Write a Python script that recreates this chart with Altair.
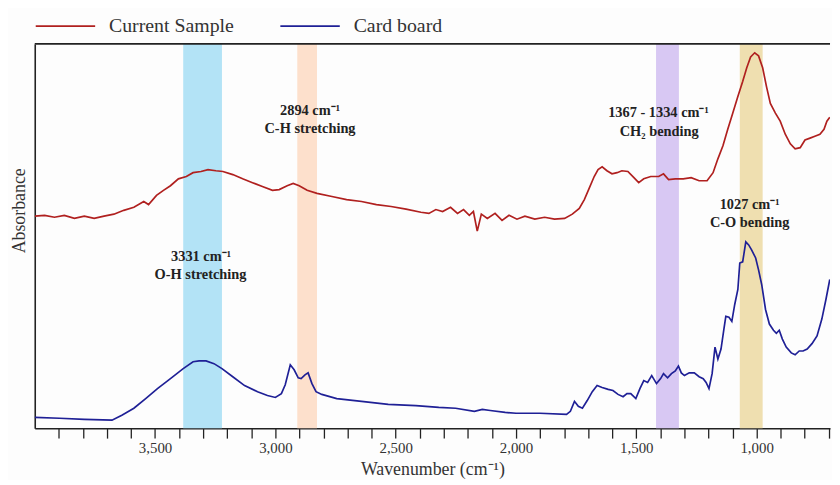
import altair as alt
import pandas as pd

# ---- data ----
red_w = [4000, 3959, 3918, 3877, 3835, 3794, 3753, 3712, 3671, 3630, 3588, 3547, 3527, 3494, 3465,
         3436, 3403, 3370, 3342, 3309, 3280, 3247, 3218, 3177, 3136, 3095, 3054, 3012, 2984, 2951,
         2926, 2901, 2868, 2827, 2765, 2704, 2642, 2580, 2519, 2457, 2395, 2362, 2333, 2305, 2272,
         2243, 2218, 2194, 2177, 2161, 2144, 2119, 2087, 2058, 2029, 1996, 1963, 1922, 1881, 1840,
         1798, 1766, 1737, 1716, 1696, 1675, 1659, 1642, 1622, 1601, 1580, 1560, 1535, 1510, 1490,
         1469, 1440, 1407, 1387, 1366, 1338, 1305, 1272, 1239, 1206, 1181, 1161, 1140, 1120, 1099,
         1078, 1058, 1041, 1025, 1008, 992, 975, 959, 943, 922, 902, 881, 860, 840, 819,
         799, 778, 758, 737, 720, 708, 696]
red_a = [55.2, 55.4, 54.9, 55.4, 54.6, 55.2, 54.6, 55.2, 55.7, 56.7, 57.5, 59.0, 58.2, 60.6, 61.9,
         63.1, 64.9, 65.5, 66.5, 66.8, 67.3, 67.0, 66.8, 66.0, 64.9, 63.9, 62.9, 61.9, 62.1, 63.1,
         63.7, 63.1, 61.9, 61.1, 60.3, 59.5, 59.0, 58.2, 57.7, 57.0, 56.2, 55.9, 56.9, 56.4, 57.5,
         55.9, 56.9, 55.4, 56.4, 51.3, 55.7, 54.6, 55.9, 54.1, 55.4, 54.4, 55.2, 54.4, 54.9, 54.4,
         54.6, 55.7, 57.2, 59.5, 62.4, 65.5, 67.3, 68.0, 67.0, 66.2, 66.5, 67.0, 66.8, 65.2, 63.9,
         64.9, 65.5, 65.5, 66.2, 64.7, 64.9, 64.9, 65.2, 64.4, 64.4, 66.5, 70.1, 73.5, 77.8, 82.0,
         86.3, 90.2, 93.8, 96.6, 97.7, 96.9, 93.8, 88.9, 84.5, 82.0, 79.9, 76.5, 74.0, 72.7, 73.0,
         75.0, 75.5, 76.0, 76.5, 77.8, 79.9, 80.9]

blue_w = [4000, 3897, 3794, 3679, 3638, 3588, 3539, 3490, 3436, 3383, 3342, 3317, 3288, 3255, 3222,
          3177, 3128, 3074, 3033, 3000, 2975, 2959, 2938, 2922, 2905, 2893, 2877, 2864, 2848, 2831,
          2807, 2745, 2642, 2531, 2416, 2321, 2251, 2173, 2140, 2107, 2045, 2000, 1901, 1790, 1774,
          1757, 1741, 1724, 1704, 1683, 1663, 1642, 1617, 1597, 1576, 1555, 1539, 1523, 1502, 1485,
          1469, 1453, 1436, 1416, 1399, 1387, 1370, 1354, 1338, 1325, 1313, 1300, 1280, 1259, 1239,
          1222, 1210, 1198, 1185, 1173, 1161, 1148, 1136, 1128, 1115, 1103, 1091, 1078, 1070, 1058,
          1045, 1033, 1021, 1004, 992, 979, 963, 947, 930, 918, 906, 893, 877, 856, 840,
          823, 807, 790, 770, 749, 729, 712, 696]
blue_a = [2.8, 2.6, 2.3, 2.1, 3.4, 5.2, 7.7, 10.3, 12.9, 15.5, 17.3, 17.5, 17.5, 16.8, 15.5,
          13.4, 11.1, 9.5, 8.5, 8.0, 9.0, 11.3, 16.5, 15.2, 13.1, 12.9, 13.9, 14.4, 11.6, 9.5,
          8.8, 7.7, 7.0, 6.2, 5.9, 5.4, 5.2, 4.4, 4.9, 4.6, 4.1, 3.9, 3.9, 3.6, 4.4,
          7.0, 5.7, 5.2, 7.2, 9.5, 11.1, 10.6, 10.1, 9.8, 8.8, 8.2, 9.0, 9.0, 7.7, 10.3,
          12.4, 11.9, 13.7, 11.6, 12.9, 14.2, 13.1, 14.2, 14.9, 16.2, 14.4, 13.7, 14.4, 14.4, 13.4,
          12.9, 11.9, 10.3, 14.2, 21.1, 18.0, 20.6, 25.8, 29.1, 28.9, 27.8, 32.2, 36.1, 43.0, 43.3,
          48.5, 47.7, 46.4, 44.3, 41.2, 37.4, 30.9, 27.1, 25.5, 24.7, 25.5, 23.2, 21.1, 19.6, 19.1,
          20.1, 20.1, 20.6, 22.0, 24.0, 28.4, 33.5, 38.7]

series_names = ["Current Sample", "Card board"]
series_colors = ["#b0201f", "#1f2096"]

band_start = [3383, 2909, 1418, 1070]
band_end = [3222, 2827, 1323, 975]
band_colors = ["#b3e3f6", "#fde0cc", "#d8c8f3", "#efdfb0"]

note_text = ["2894 cm⁻¹", "C-H stretching", "3331 cm⁻¹", "O-H stretching",
             "1367 - 1334  cm⁻¹", "CH₂ bending", "1027   cm⁻¹", "C-O bending"]
note_w = [2856, 2856, 3309, 3311, 1408, 1405, 1029, 1029]
note_a = [82.5, 77.8, 44.6, 39.9, 82.0, 77.1, 58.0, 53.4]

tick_values = list(range(3900, 600, -100))

# ---- tables ----
lines_df = pd.DataFrame({
    "w": red_w + blue_w,
    "a": red_a + blue_a,
    "series": [series_names[0]] * len(red_w) + [series_names[1]] * len(blue_w),
})
bands_df = pd.DataFrame({"start": band_start, "end": band_end, "color": band_colors})
notes_df = pd.DataFrame({"text": note_text, "w": note_w, "a": note_a})
frame_df = pd.DataFrame({"a": [100]})

SERIF = "Liberation Serif"
xscale = alt.Scale(domain=[4000, 695], nice=False, zero=False)
yscale = alt.Scale(domain=[0, 100], nice=False, zero=False)

xaxis = alt.Axis(values=tick_values,
                 labelExpr="(datum.value % 500 == 0) ? format(datum.value, ',') : ' '",
                 labelOverlap=False, labelSeparation=0,
                 tickSize=10, tickColor="#222", tickWidth=1.3,
                 domainColor="#222", domainWidth=1.6,
                 labelFont=SERIF, labelFontSize=15, labelColor="#333",
                 labelPadding=3, labelFlush=False,
                 title="Wavenumber (cm⁻¹)", titleFont=SERIF, titleFontSize=18,
                 titleFontWeight="normal", titleColor="#333", titlePadding=5,
                 grid=False)
yaxis = alt.Axis(ticks=False, labels=False, grid=False,
                 domainColor="#222", domainWidth=1.6,
                 title="Absorbance", titleFont=SERIF, titleFontSize=18,
                 titleFontWeight="normal", titleColor="#333",
                 titlePadding=6, titleY=168)

bands = alt.Chart(bands_df).mark_rect().encode(
    x=alt.X("start:Q", scale=xscale, axis=xaxis),
    x2="end:Q",
    fill=alt.Fill("color:N", scale=None, legend=None),
)

lines = alt.Chart(lines_df).mark_line(strokeWidth=1.7, clip=True).encode(
    x=alt.X("w:Q", scale=xscale, axis=xaxis),
    y=alt.Y("a:Q", scale=yscale, axis=yaxis),
    color=alt.Color("series:N",
                    scale=alt.Scale(domain=series_names, range=series_colors),
                    sort=series_names,
                    legend=alt.Legend(title=None, orient="none", legendX=0, legendY=-49,
                                      direction="horizontal", symbolType="stroke",
                                      symbolSize=3600, symbolStrokeWidth=2,
                                      labelFont=SERIF, labelFontSize=20, labelColor="#333",
                                      labelOffset=13, columnPadding=42, padding=0)),
)

notes = alt.Chart(notes_df).mark_text(font=SERIF, fontSize=14.5, fontWeight="bold",
                                      color="#222", baseline="middle", align="center").encode(
    x=alt.X("w:Q", scale=xscale, axis=xaxis),
    y=alt.Y("a:Q", scale=yscale, axis=yaxis),
    text="text:N",
)

top_frame = alt.Chart(frame_df).mark_rule(color="#222", strokeWidth=1.8).encode(
    y=alt.Y("a:Q", scale=yscale, axis=yaxis),
)

chart = alt.layer(bands, lines, notes, top_frame).properties(
    width=803, height=388,
    autosize=alt.AutoSizeParams(type="none"),
    padding={"left": 27, "top": 34, "right": 2, "bottom": 50},
    background="#fdfdfd",
).configure_view(stroke=None).configure_axis(labelOverlap=False)

chart.save("out.html", embed_options={"renderer": "svg", "actions": False})
